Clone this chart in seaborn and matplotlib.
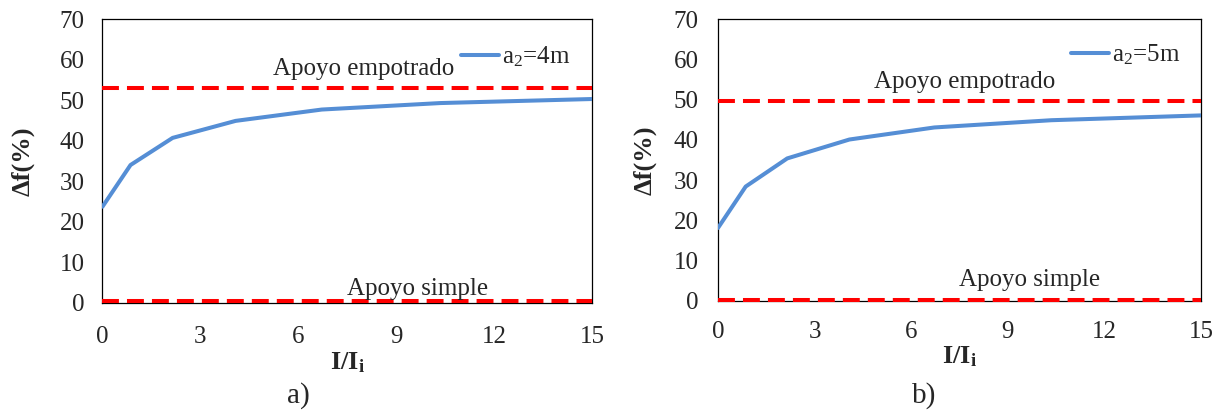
import matplotlib.pyplot as plt
import pandas as pd
import seaborn as sns

# values
ratio = [0, 0.86, 2.15, 4.08, 6.72, 10.35, 15]          # I/Ii
df_a2_4m = [23.7, 34.0, 40.7, 44.9, 47.7, 49.3, 50.3]    # panel a)
df_a2_5m = [18.1, 28.4, 35.4, 40.1, 43.1, 44.9, 46.1]    # panel b)

empotrado = [53.0, 49.7]   # fixed support limit, a) and b)
simple = [0.3, 0.3]        # simple support limit, a) and b)

series_labels = ["a$_2$=4m", "a$_2$=5m"]
captions = ["a)", "b)"]
x_ticks = [0, 3, 6, 9, 12, 15]
y_ticks = [0, 10, 20, 30, 40, 50, 60, 70]

BLUE = "#558ED5"
RED = "#FF0000"

sns.set_style("white")
plt.rcParams["font.family"] = ["Liberation Serif", "DejaVu Serif"]
plt.rcParams["mathtext.fontset"] = "custom"
plt.rcParams["mathtext.rm"] = "Liberation Serif"
plt.rcParams["mathtext.it"] = "Liberation Serif:italic"
plt.rcParams["mathtext.bf"] = "Liberation Serif:bold"


def plot_panel(ax, values, label, top, bottom, txt_top, txt_bottom,
               leg_anchor, ylab_x, xlab_y, xpad, ypad):
    data = pd.DataFrame({"ratio": ratio, "df": values})

    # limit lines (fixed / simple support)
    for v in (top, bottom):
        ax.axhline(v, color=RED, lw=2.9, dashes=(4.2, 2.0), clip_on=False, zorder=3)

    sns.lineplot(ax=ax, data=data, x="ratio", y="df", color=BLUE, lw=2.9,
                 label=label, zorder=4)

    ax.text(txt_top[0], txt_top[1], "Apoyo empotrado", ha="center",
            va="baseline", fontsize=18)
    ax.text(txt_bottom[0], txt_bottom[1], "Apoyo simple", ha="center",
            va="baseline", fontsize=18)

    ax.set_xlim(0, 15)
    ax.set_ylim(0, 70)
    ax.set_xticks(x_ticks)
    ax.set_yticks(y_ticks)
    ax.tick_params(axis="x", length=0, pad=xpad, labelsize=18)
    ax.tick_params(axis="y", length=0, pad=ypad, labelsize=18)
    for s in ax.spines.values():
        s.set_color("black")
        s.set_linewidth(0.9)

    ax.set_xlabel(r"I/I$_\mathbf{i}$", fontsize=19, fontweight="bold")
    ax.set_ylabel("Δf(%)", fontsize=19, fontweight="bold")
    ax.xaxis.label.set_verticalalignment("center")
    ax.yaxis.label.set_verticalalignment("center")
    ax.xaxis.set_label_coords(0.5, xlab_y)
    ax.yaxis.set_label_coords(ylab_x, 0.5)

    ax.legend(loc="center right", bbox_to_anchor=leg_anchor, frameon=False,
              fontsize=18, borderpad=0, borderaxespad=0, handlelength=1.5,
              handletextpad=0.12)


fig = plt.figure(figsize=(12.24, 4.12), dpi=100)
ax_a = fig.add_axes([0.0837, 0.2653, 0.400, 0.688])
ax_b = fig.add_axes([0.5866, 0.2701, 0.3946, 0.683])

plot_panel(ax_a, df_a2_4m, series_labels[0], empotrado[0], simple[0],
           (8.0, 56.2), (9.64, 1.9), (0.955, 0.868), -0.162, -0.21, 17, 13)
plot_panel(ax_b, df_a2_5m, series_labels[1], empotrado[1], simple[1],
           (7.67, 52.9), (9.69, 3.66), (0.957, 0.874), -0.151, -0.20, 14.5, 14)

fig.text(0.2435, 0.04, captions[0], ha="center", va="center", fontsize=21)
fig.text(0.755, 0.04, captions[1], ha="center", va="center", fontsize=21)

fig.savefig("out.png", dpi=100)
